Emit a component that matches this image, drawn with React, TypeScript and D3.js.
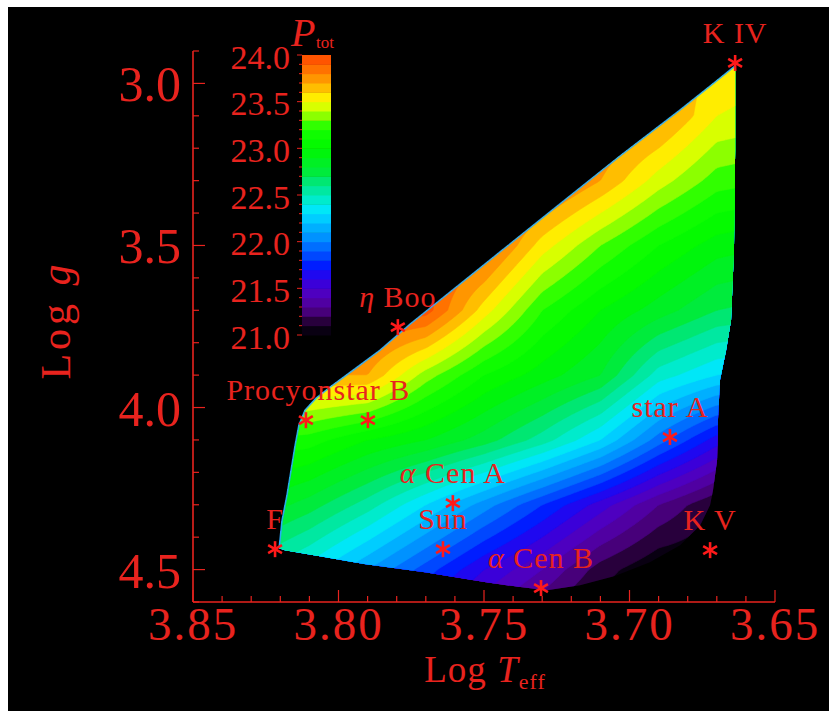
import React from 'react';
import * as d3 from 'd3';

// ---------- data ----------
const teffNodes = [3.85, 3.83, 3.81, 3.79, 3.77, 3.75, 3.73, 3.71, 3.69, 3.67, 3.65];
const loggNodes = [2.9, 3.1, 3.3, 3.5, 3.7, 3.9, 4.1, 4.3, 4.5, 4.6];
const ptotGrid = [
  [24.0, 24.0, 24.0, 24.0, 24.0, 23.95, 23.9, 23.8, 23.7, 23.6, 23.55],
  [24.0, 24.0, 24.0, 24.0, 24.0, 23.95, 23.9, 23.85, 23.75, 23.5, 23.45],
  [24.0, 24.0, 24.0, 24.0, 24.0, 23.95, 23.9, 23.7, 23.45, 23.25, 23.2],
  [24.0, 24.0, 24.0, 24.0, 23.95, 23.9, 23.55, 23.3, 23.1, 22.95, 22.9],
  [24.0, 24.0, 24.0, 23.95, 23.95, 23.55, 23.2, 23.0, 22.85, 22.7, 22.65],
  [23.8, 23.75, 23.7, 23.7, 23.35, 23.1, 22.95, 22.8, 22.45, 22.3, 22.25],
  [23.3, 23.2, 23.15, 23.0, 22.9, 22.75, 22.55, 22.3, 21.95, 21.65, 21.6],
  [23.0, 22.9, 22.75, 22.55, 22.3, 22.05, 21.8, 21.55, 21.3, 21.1, 21.05],
  [22.65, 22.55, 22.35, 22.1, 21.85, 21.6, 21.4, 21.15, 21.0, 21.0, 21.0],
  [22.55, 22.45, 22.25, 21.95, 21.7, 21.45, 21.25, 21.05, 21.0, 21.0, 21.0],
];

const boundaryTeff = [3.6637, 3.6637, 3.6641, 3.6651, 3.6668, 3.6689, 3.6696, 3.6699, 3.6713, 3.6723, 3.6757, 3.6826, 3.693, 3.705, 3.717, 3.7284, 3.7376, 3.7493, 3.7703, 3.7912, 3.8064, 3.8184, 3.8204, 3.8194, 3.8177, 3.8163, 3.8149, 3.8136, 3.8115, 3.8077, 3.8029, 3.795, 3.7857, 3.7754, 3.7617, 3.7445, 3.7239, 3.7033, 3.6826, 3.6706];
const boundaryLogg = [2.946, 3.206, 3.514, 3.73, 3.823, 3.915, 4.039, 4.162, 4.255, 4.301, 4.363, 4.425, 4.477, 4.52, 4.548, 4.564, 4.554, 4.539, 4.508, 4.483, 4.459, 4.44, 4.434, 4.348, 4.27, 4.193, 4.116, 4.054, 4.008, 3.971, 3.937, 3.885, 3.823, 3.743, 3.644, 3.52, 3.372, 3.224, 3.082, 2.996];
const upperEdgeStart = 22; // index in boundary where left/upper edge begins

const starNames = ['K IV', 'η Boo', 'Procyon', 'star B', 'star A', 'α Cen A', 'Sun', 'F', 'K V', 'α Cen B'];
const starTeff = [3.6637, 3.7796, 3.8112, 3.7899, 3.6861, 3.7607, 3.7641, 3.8218, 3.6723, 3.7304];
const starLogg = [2.937, 3.752, 4.039, 4.039, 4.091, 4.295, 4.437, 4.437, 4.44, 4.557];

const xTicks = [3.85, 3.80, 3.75, 3.70, 3.65];
const xTickLabels = ['3.85', '3.80', '3.75', '3.70', '3.65'];
const yTicks = [3.0, 3.5, 4.0, 4.5];
const yTickLabels = ['3.0', '3.5', '4.0', '4.5'];
const cbTicks = [24.0, 23.5, 23.0, 22.5, 22.0, 21.5, 21.0];
const cbTickLabels = ['24.0', '23.5', '23.0', '22.5', '22.0', '21.5', '21.0'];

const cmapP = [21.0, 21.06, 21.15, 21.28, 21.44, 21.6, 21.73, 21.87, 22.03, 22.2, 22.33, 22.46, 22.62, 22.75, 23.0, 23.2, 23.27, 23.35, 23.43, 23.5, 23.57, 23.65, 23.75, 23.86, 24.0];
const cmapColors = ['#050008', '#0a0014', '#28003c', '#50008c', '#5000be', '#3200e6', '#0014ff', '#0050ff', '#008cff', '#00beff', '#00e6ff', '#00ebc8', '#00e682', '#00eb3c', '#00f800', '#14ff00', '#3cff00', '#8cff00', '#c8ff00', '#ffff00', '#ffe600', '#ffbe00', '#ff9600', '#ff6e00', '#ff4600'];

// ---------- layout ----------
const W = 829, H = 711;
const X0 = 193, X1 = 775, Y0 = 51, Y1 = 602;
const RED = '#e8231e';
const FONT = '"Liberation Serif", "DejaVu Serif", serif';

function field(t: number, g: number): number {
  let i = 0;
  while (i < teffNodes.length - 2 && t < teffNodes[i + 1]) i++;
  let j = 0;
  while (j < loggNodes.length - 2 && g > loggNodes[j + 1]) j++;
  const u = Math.max(0, Math.min(1, (teffNodes[i] - t) / (teffNodes[i] - teffNodes[i + 1])));
  const v = Math.max(0, Math.min(1, (g - loggNodes[j]) / (loggNodes[j + 1] - loggNodes[j])));
  const a = ptotGrid[j][i], b = ptotGrid[j][i + 1], c = ptotGrid[j + 1][i], d = ptotGrid[j + 1][i + 1];
  return a * (1 - u) * (1 - v) + b * u * (1 - v) + c * (1 - u) * v + d * u * v;
}

export default function App() {
  const x = d3.scaleLinear().domain([3.85, 3.65]).range([X0, X1]);
  const y = d3.scaleLinear().domain([2.9, 4.6]).range([Y0, Y1]);
  const cb = d3.scaleLinear().domain([21, 24]).range([335, 55]);
  const cmap = d3.scaleLinear<string>().domain(cmapP).range(cmapColors).interpolate(d3.interpolateRgb).clamp(true);

  const bandLow = d3.range(30).map((k) => 21 + k * 0.1);
  const bandColor = (k: number) => cmap(21 + k * 0.1 + 0.05);

  const nx = 240, ny = 220;
  const values = new Array(nx * ny);
  for (let j = 0; j < ny; j++) {
    for (let i = 0; i < nx; i++) {
      const t = x.invert(X0 + ((i + 0.5) * (X1 - X0)) / nx);
      const g = y.invert(Y0 + ((j + 0.5) * (Y1 - Y0)) / ny);
      values[j * nx + i] = field(t, g);
    }
  }
  const thresholds = bandLow.map((v, k) => (k === 0 ? -1000 : v + 1e-9));
  const contours = d3.contours().size([nx, ny]).thresholds(thresholds)(values);
  const proj = d3.geoTransform({
    point(px: number, py: number) {
      (this as any).stream.point(X0 + (px * (X1 - X0)) / nx, Y0 + (py * (Y1 - Y0)) / ny);
    },
  });
  const path = d3.geoPath(proj);

  const bPts = boundaryTeff.map((t, k) => [x(t), y(boundaryLogg[k])] as [number, number]);
  const boundaryPath = d3.line()(bPts)! + 'Z';
  const upperPts = bPts.slice(upperEdgeStart).concat([bPts[0]]);
  const upperPath = d3.line()(upperPts)!;

  const yMinor = d3.range(29, 47).map((k) => k / 10);
  const xMinor = d3.range(365, 386).map((k) => k / 100);

  const star = (cx: number, cy: number, key: number) => {
    const r = 8;
    const angs = [90, 30, 150];
    return (
      <g key={'s' + key}>
        {angs.map((a) => {
          const dx = r * Math.cos((a * Math.PI) / 180);
          const dy = r * Math.sin((a * Math.PI) / 180);
          return <line key={a} x1={cx - dx} y1={cy - dy} x2={cx + dx} y2={cy + dy} stroke="#ff1a1a" strokeWidth={2.6} />;
        })}
      </g>
    );
  };

  const labelDx: Record<string, number> = { Procyon: -26, 'star B': 4 };

  const renderName = (name: string) => {
    const m = name.match(/^([αη])(.*)$/);
    if (m) {
      return (
        <>
          <tspan fontStyle="italic">{m[1]}</tspan>
          {m[2]}
        </>
      );
    }
    return name;
  };

  return (
    <svg width={W} height={H} style={{ position: 'absolute', left: 0, top: 0 }} fontFamily={FONT}>
      <rect x={0} y={0} width={W} height={H} fill="#fff" />
      <rect x={8} y={7} width={W - 8} height={H - 7} fill="#000" />
      <defs>
        <clipPath id="region">
          <path d={boundaryPath} />
        </clipPath>
      </defs>
      <g clipPath="url(#region)">
        {contours.map((c, k) => (
          <path key={k} d={path(c as any) || ''} fill={bandColor(k)} stroke={bandColor(k)} strokeWidth={0.6} />
        ))}
      </g>
      <path d={upperPath} fill="none" stroke="#2aa8ff" strokeWidth={1.6} opacity={0.85} />

      {/* colorbar */}
      {bandLow.map((v, k) => (
        <rect key={'cb' + k} x={302} y={cb(v + 0.1)} width={29} height={cb(v) - cb(v + 0.1) + 0.5} fill={bandColor(k)} />
      ))}
      {d3.range(210, 241).map((k) => {
        const v = k / 10;
        const major = k % 5 === 0;
        return <line key={'cbt' + k} x1={302 - (major ? 5 : 3)} x2={302} y1={cb(v)} y2={cb(v)} stroke={RED} strokeWidth={1} />;
      })}
      {cbTicks.map((v, k) => (
        <text key={'cbl' + k} x={290} y={cb(v) + 2} textAnchor="end" dominantBaseline="central" fontSize={34} fill={RED}>
          {cbTickLabels[k]}
        </text>
      ))}
      <text x={291} y={46} fill={RED} fontSize={40} fontStyle="italic">P</text>
      <text x={316} y={48} fill={RED} fontSize={17}>tot</text>

      {/* axes */}
      <line x1={X0} x2={X0} y1={Y0} y2={Y1} stroke={RED} strokeWidth={1.6} />
      <line x1={X0} x2={X1} y1={Y1} y2={Y1} stroke={RED} strokeWidth={1.6} />
      {yMinor.map((v) => {
        const major = Math.abs(v * 2 - Math.round(v * 2)) < 1e-6;
        return <line key={'yt' + v} x1={X0} x2={X0 + (major ? 12 : 6)} y1={y(v)} y2={y(v)} stroke={RED} strokeWidth={1.2} />;
      })}
      {xMinor.map((v) => {
        const major = Math.abs(v * 20 - Math.round(v * 20)) < 1e-6;
        return <line key={'xt' + v} x1={x(v)} x2={x(v)} y1={Y1} y2={Y1 - (major ? 12 : 6)} stroke={RED} strokeWidth={1.2} />;
      })}
      {yTicks.map((v, k) => (
        <text key={'yl' + k} x={181} y={y(v) + 1} textAnchor="end" dominantBaseline="central" fontSize={50} fill={RED}>
          {yTickLabels[k]}
        </text>
      ))}
      {xTicks.map((v, k) => (
        <text key={'xl' + k} x={x(v)} y={640} textAnchor="middle" fontSize={47} fill={RED} letterSpacing={2}>
          {xTickLabels[k]}
        </text>
      ))}

      <text x={485} y={682} textAnchor="middle" fontSize={37} fill={RED} letterSpacing={1}>
        Log <tspan fontStyle="italic">T</tspan>
        <tspan fontSize={22} dy={7}>eff</tspan>
      </text>
      <text transform="translate(70,320) rotate(-90)" textAnchor="middle" fontSize={42} fill={RED} letterSpacing={4}>
        Log <tspan fontStyle="italic">g</tspan>
      </text>

      {/* stars */}
      {starNames.map((n, k) => (
        <text key={'n' + k} x={x(starTeff[k]) + (labelDx[n] || 0)} y={y(starLogg[k]) - 20} textAnchor="middle" fontSize={30} fill={RED} letterSpacing={1}>
          {renderName(n)}
        </text>
      ))}
      {starNames.map((n, k) => star(x(starTeff[k]), y(starLogg[k]), k))}
    </svg>
  );
}
